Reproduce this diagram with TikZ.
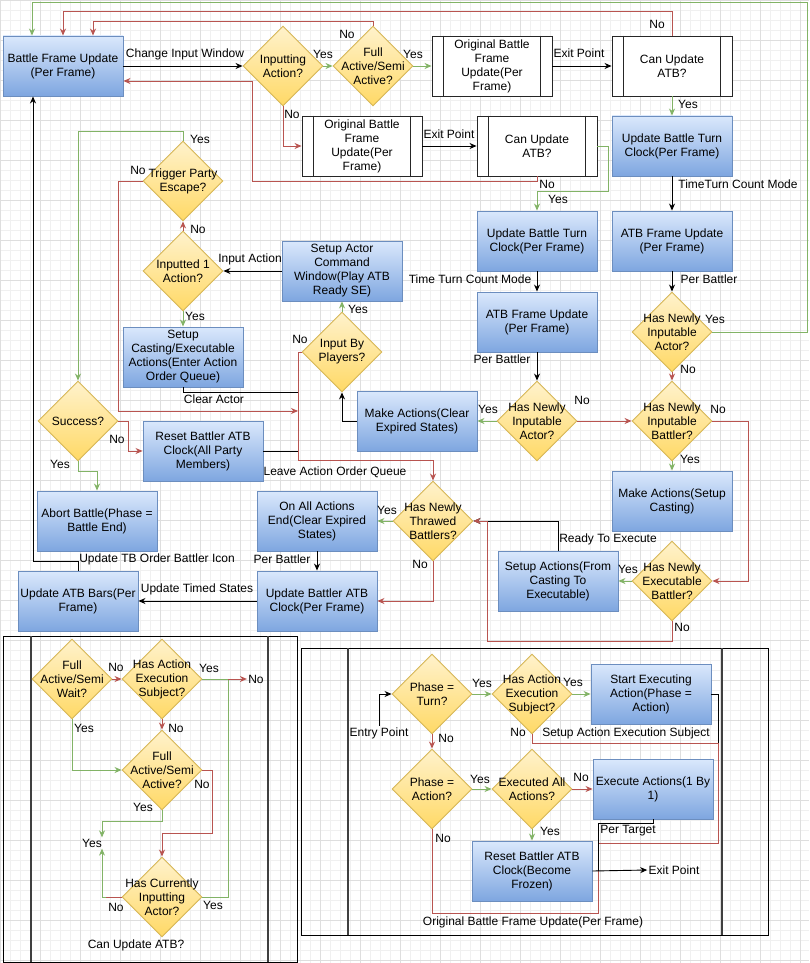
\documentclass[tikz,border=0pt]{standalone}
\usepackage{fontspec}
\setmainfont{Liberation Sans}
\usetikzlibrary{shapes.geometric,arrows.meta}
\definecolor{grnline}{HTML}{82B366}
\definecolor{redline}{HTML}{B85450}
\definecolor{bluetop}{HTML}{DAE8FC}
\definecolor{bluebot}{HTML}{7EA6E0}
\definecolor{blueline}{HTML}{6C8EBF}
\definecolor{yeltop}{HTML}{FFF2CC}
\definecolor{yelbot}{HTML}{FFD966}
\definecolor{yelline}{HTML}{D6B656}
\tikzset{
decision/.style={diamond, draw=yelline, top color=yeltop, bottom color=yelbot, minimum width=80, minimum height=80, inner sep=0},
procshape/.style={rectangle, draw=blueline, top color=bluetop, bottom color=bluebot, minimum width=120, minimum height=60, inner sep=0},
subshape/.style={rectangle, draw=black!85, fill=white, minimum width=120, minimum height=60, inner sep=0},
txt/.style={align=center, inner sep=1pt},
yes/.style={draw=grnline},
no/.style={draw=redline},
}
\newcommand{\decbox}[4]{
\node[decision] (#1) at (#2,#3) {};
\node[txt] (#1t) at (#2,#3) {#4};
}
\newcommand{\procbox}[4]{
\node[procshape] (#1) at (#2,#3) {};
\node[txt] (#1t) at (#2,#3) {#4};
}
\newcommand{\subbox}[4]{
\node[subshape] (#1) at (#2,#3) {};
\draw[black!85] ([xshift=12]#1.north west) -- ([xshift=12]#1.south west);
\draw[black!85] ([xshift=-12]#1.north east) -- ([xshift=-12]#1.south east);
\node[txt] (#1t) at (#2,#3) {#4};
}
\begin{document}
\begin{tikzpicture}[x=1pt,y=-1pt,line width=0.9pt,>={Stealth[length=7pt,width=6pt]},
every node/.append style={font=\fontsize{12}{14}\selectfont}]
\useasboundingbox (0,0) rectangle (809,963);
\fill[white] (0,0) rectangle (809,963);
\draw[black!6,line width=0.5pt,step=10pt] (0,0) grid (809,963);
\draw[black!13,line width=0.5pt,step=40pt] (0,0) grid (809,963);

\procbox{bfu}{63}{66}{Battle Frame Update\\(Per Frame)}
\decbox{inp}{283}{66}{Inputting\\Action?}
\decbox{fullA}{373}{66}{Full\\Active/Semi\\Active?}
\subbox{obfA}{492}{66}{Original Battle\\Frame\\Update(Per\\Frame)}
\subbox{cuA}{672}{66}{Can Update\\ATB?}
\subbox{obfB}{362}{146}{Original Battle\\Frame\\Update(Per\\Frame)}
\subbox{cuB}{537}{146}{Can Update\\ATB?}
\procbox{ubtA}{672}{146}{Update Battle Turn\\Clock(Per Frame)}
\procbox{ubtB}{537}{241}{Update Battle Turn\\Clock(Per Frame)}
\procbox{atbA}{672}{241}{ATB Frame Update\\(Per Frame)}
\procbox{atbB}{537}{322}{ATB Frame Update\\(Per Frame)}
\decbox{hnaA}{672}{332}{Has Newly\\Inputable\\Actor?}
\decbox{hnbA}{672}{421}{Has Newly\\Inputable\\Battler?}
\decbox{hnaB}{537}{421}{Has Newly\\Inputable\\Actor?}
\procbox{mkA}{672}{501}{Make Actions(Setup\\Casting)}
\decbox{hne}{672}{581}{Has Newly\\Executable\\Battler?}
\procbox{sua}{558}{581}{Setup Actions(From\\Casting To\\Executable)}
\procbox{mkB}{417}{421}{Make Actions(Clear\\Expired States)}
\decbox{ibp}{342}{352}{Input By\\Players?}
\procbox{sac}{342}{271}{Setup Actor\\Command\\Window(Play ATB\\Ready SE)}
\decbox{ipa}{183}{271}{Inputted 1\\Action?}
\decbox{tpe}{183}{181}{Trigger Party\\Escape?}
\procbox{scq}{183}{357}{Setup\\Casting/Executable\\Actions(Enter Action\\Order Queue)}
\decbox{suc}{78}{421}{Success?}
\procbox{rbc}{203}{451}{Reset Battler ATB\\Clock(All Party\\Members)}
\procbox{abt}{97}{521}{Abort Battle(Phase =\\Battle End)}
\decbox{hnt}{433}{521}{Has Newly\\Thrawed\\Battlers?}
\procbox{oae}{317}{521}{On All Actions\\End(Clear Expired\\States)}
\procbox{ubc}{317}{601}{Update Battler ATB\\Clock(Per Frame)}
\procbox{uab}{78}{601}{Update ATB Bars(Per\\Frame)}

\coordinate (mergeA) at (298,392);
\coordinate (mergeB) at (298,411);
\coordinate (mergeC) at (298,451);

\draw[->] (bfu.east) -- (inp.west);
\draw[yes,->] (inp.east) -- (fullA.west);
\draw[yes,->] (fullA.east) -- (obfA.west);
\draw[->] (obfA.east) -- (cuA.west);
\draw[no,->] (fullA.north) -- ++(0,-4) -| ([xshift=30]bfu.north);
\draw[no,->] (cuA.north) -- ++(0,-24) -| (bfu.north);
\draw[yes,->] (hnaA.east) -| (807,2) -| ([xshift=-31]bfu.north);
\draw[no,->] (inp.south) |- (obfB.west);
\draw[->] (obfB.east) -- (cuB.west);
\draw[no,->] (cuB.south) -- ++(0,5) -| (252,81) -- ([yshift=-15]bfu.east);
\draw[yes,->] (cuB.east) -| (608,191) -| (ubtB.north);
\draw[yes,->] (cuA.south) -- (ubtA.north);
\draw[->] (ubtA.south) -- (atbA.north);
\draw[->] (atbA.south) -- (hnaA.north);
\draw[no,->] (hnaA.south) -- (hnbA.north);
\draw[yes,->] (hnbA.south) -- (mkA.north);
\draw[no,->] (hnbA.east) -| (748,581) -- (hne.east);
\draw[yes,->] (hne.west) -- (sua.east);
\draw[->] (sua.north) |- (hnt.east);
\draw[no,->] (hne.south) |- (487,641) |- (hnt.east);
\draw[->] (ubtB.south) -- (atbB.north);
\draw[->] (atbB.south) -- (hnaB.north);
\draw[yes,->] (hnaB.west) -- (mkB.east);
\draw[no,->] (hnaB.east) -- (hnbA.west);
\draw[->] (mkB.west) -| (ibp.south);
\draw[yes,->] (ibp.north) -- (sac.south);
\draw[->] (sac.west) -- (ipa.east);
\draw[no,->] (ipa.north) -- (tpe.south);
\draw[yes,->] (ipa.south) -- (scq.north);
\draw[yes,->] (tpe.north) |- (78,131) -- (suc.north);
\draw (scq.south) |- (mergeA);
\draw (rbc.east) -- (mergeC);
\draw[no,->] (tpe.west) -| (118,411) -- (mergeB);
\draw[no,->] (ibp.west) -| (298,460) -| (hnt.north);
\draw[yes,->] (suc.south) |- (97,471) -- (abt.north);
\draw[no,->] (suc.east) -| (128,451) -- (rbc.west);
\draw[yes,->] (hnt.west) -- (oae.east);
\draw[no,->] (hnt.south) |- (ubc.east);
\draw[->] (oae.south) -- (ubc.north);
\draw[->] (ubc.west) -- (uab.east);
\draw[->] (uab.north) |- (33,561) -- ([xshift=-30]bfu.south);

\node[txt] (l1) at (185,54) {Change Input Window};
\node[txt] (l2) at (323,54) {Yes};
\node[txt] (l3) at (413,54) {Yes};
\node[txt] (l4) at (579,53) {Exit Point};
\node[txt] (l5) at (347,34) {No};
\node[txt] (l6) at (657,24) {No};
\node[txt] (l7) at (715,319) {Yes};
\node[txt] (l8) at (292,114) {No};
\node[txt] (l9) at (449,134) {Exit Point};
\node[txt] (l10) at (547,184) {No};
\node[txt] (l11) at (558,199) {Yes};
\node[txt] (l12) at (688,104) {Yes};
\node[txt] (l13) at (738,184) {TimeTurn Count Mode};
\node[txt] (l14) at (709,279) {Per Battler};
\node[txt] (l15) at (688,369) {No};
\node[txt] (l16) at (690,459) {Yes};
\node[txt] (l17) at (718,409) {No};
\node[txt] (l18) at (628,569) {Yes};
\node[txt] (l19) at (682,627) {No};
\node[txt] (l20) at (608,539) {Ready To Execute};
\node[txt] (l21) at (470,279) {Time Turn Count Mode};
\node[txt] (l22) at (502,359) {Per Battler};
\node[txt] (l23) at (488,409) {Yes};
\node[txt] (l24) at (582,400) {No};
\node[txt] (l25) at (358,309) {Yes};
\node[txt] (l26) at (250,259) {Input Action};
\node[txt] (l27) at (198,229) {No};
\node[txt] (l28) at (195,316) {Yes};
\node[txt] (l29) at (200,139) {Yes};
\node[txt] (l30) at (138,170) {No};
\node[txt] (l31) at (300,339) {No};
\node[txt] (l32) at (214,399) {Clear Actor};
\node[txt] (l33) at (335,472) {Leave Action Order Queue};
\node[txt] (l34) at (60,464) {Yes};
\node[txt] (l35) at (117,439) {No};
\node[txt] (l36) at (387,510) {Yes};
\node[txt] (l37) at (420,564) {No};
\node[txt] (l38) at (282,559) {Per Battler};
\node[txt] (l39) at (197,589) {Update Timed States};
\node[txt] (l40) at (157,559) {Update TB Order Battler Icon};

\draw[black] (3,636) rectangle (297,962);
\draw[black!75,line width=1.6pt] (31,636) -- (31,962);
\draw[black!75,line width=1.6pt] (268,636) -- (268,962);
\decbox{faw}{72}{679}{Full\\Active/Semi\\Wait?}
\decbox{hae}{162}{679}{Has Action\\Execution\\Subject?}
\decbox{fas}{162}{770}{Full\\Active/Semi\\Active?}
\decbox{hci}{162}{897}{Has Currently\\Inputting\\Actor?}
\node[txt] (yesT) at (92,843) {Yes};
\node[txt] (noT) at (256,679) {No};
\node[txt] (cuaT) at (136,945) {Can Update ATB?};
\coordinate (mergeD) at (228,679);
\coordinate (bendN) at (106,897);

\draw[no,->] (faw.east) -- (hae.west);
\draw[yes,->] (faw.south) |- (fas.west);
\draw[no,->] (hae.south) -- (fas.north);
\draw[yes] (hae.east) -- (mergeD);
\draw[yes] (hci.east) -| (mergeD);
\draw[no,->] (mergeD) -- (noT.west);
\draw[no,->] (fas.east) -| (212,833) -| (hci.north);
\draw[yes,->] (fas.south) |- (102,821) -- ([xshift=10]yesT.north);
\draw[no] (hci.west) -- (bendN);
\draw[yes,->] (bendN) -| ([xshift=10]yesT.south);

\node[txt] (m1) at (116,667) {No};
\node[txt] (m2) at (84,728) {Yes};
\node[txt] (m3) at (176,728) {No};
\node[txt] (m4) at (209,668) {Yes};
\node[txt] (m5) at (202,784) {No};
\node[txt] (m6) at (143,807) {Yes};
\node[txt] (m7) at (116,907) {No};
\node[txt] (m8) at (213,905) {Yes};

\draw[black] (301,648) rectangle (768,935);
\draw[black!75,line width=1.6pt] (348,648) -- (348,935);
\draw[black!75,line width=1.6pt] (722,648) -- (722,935);
\decbox{ptu}{432}{694}{Phase =\\Turn?}
\decbox{hae2}{532}{694}{Has Action\\Execution\\Subject?}
\procbox{sea}{651}{694}{Start Executing\\Action(Phase =\\Action)}
\decbox{pac}{432}{789}{Phase =\\Action?}
\decbox{eaa}{532}{789}{Executed All\\Actions?}
\procbox{exa}{653}{789}{Execute Actions(1 By\\1)}
\procbox{rbf}{532}{871}{Reset Battler ATB\\Clock(Become\\Frozen)}
\node[txt] (entry) at (379,733) {Entry Point};
\node[txt] (exit) at (674,870) {Exit Point};
\coordinate (mergeE) at (718,743);
\coordinate (mergeF) at (598,871);

\draw[->] (entry.north) |- (ptu.west);
\draw[yes,->] (ptu.east) -- (hae2.west);
\draw[yes,->] (hae2.east) -- (sea.west);
\draw[no,->] (ptu.south) -- (pac.north);
\draw[yes,->] (pac.east) -- (eaa.west);
\draw[no,->] (eaa.east) -- (exa.west);
\draw[yes,->] (eaa.south) -- (rbf.north);
\draw[no] (hae2.south) |- (mergeE) |- (598,843) |- (432,913) -- (pac.south);
\draw (sea.east) -| (mergeE);
\draw (exa.south) |- (598,823) -- (mergeF);
\draw[->] (rbf.east) -- (exit.west);

\node[txt] (n1) at (482,683) {Yes};
\node[txt] (n2) at (573,682) {Yes};
\node[txt] (n3) at (446,738) {No};
\node[txt] (n4) at (518,732) {No};
\node[txt] (n5) at (626,733) {Setup Action Execution Subject};
\node[txt] (n6) at (480,779) {Yes};
\node[txt] (n7) at (581,777) {No};
\node[txt] (n8) at (550,831) {Yes};
\node[txt] (n9) at (443,838) {No};
\node[txt] (n10) at (628,831) {Per Target};
\node[txt] (n11) at (533,922) {Original Battle Frame Update(Per Frame)};
\end{tikzpicture}
\end{document}
